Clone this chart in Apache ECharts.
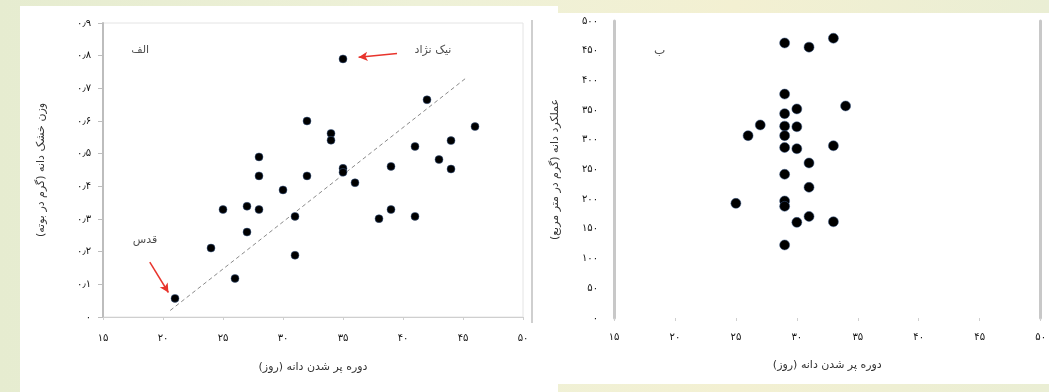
<!DOCTYPE html>
<html><head><meta charset="utf-8">
<script src="https://cdn.jsdelivr.net/npm/echarts@6/dist/echarts.min.js"></script>
<style>
html,body{margin:0;padding:0;width:1049px;height:392px;overflow:hidden;
background:linear-gradient(90deg,#e6ecd0 0%,#eef1d8 40%,#f3f0d2 70%,#eaeed4 100%);}
#c{width:1049px;height:392px;}
</style></head><body><div id="c"></div>
<script>
// ---- data: panel الف (left) ----
const leftFillDays = [35,42,32,46,34,34,44,41,28,43,39,35,44,35,28,32,36,30,27,25,28,39,31,41,38,27,24,31,26,21];
const leftGrainWeight = [0.79,0.665,0.60,0.583,0.562,0.541,0.54,0.522,0.49,0.482,0.461,0.455,0.453,0.443,0.432,0.432,0.411,0.389,0.339,0.329,0.329,0.329,0.308,0.308,0.301,0.26,0.211,0.189,0.118,0.057];
const trendX = [20.6, 45.2];
const trendY = [0.02, 0.73];
// ---- data: panel ب (right) ----
const rightFillDays = [29,31,33,29,34,30,29,27,29,30,26,29,29,30,33,31,29,31,25,29,29,31,30,33,29];
const rightYield = [463,456,471,377,357,352,344,325,323,322,307,307,287,285,290,261,242,220,193,197,188,171,161,162,123];
// ---- tick labels ----
const xTickLabels = ['۱۵','۲۰','۲۵','۳۰','۳۵','۴۰','۴۵','۵۰'];
const leftYTickLabels = ['۰','۰٫۱','۰٫۲','۰٫۳','۰٫۴','۰٫۵','۰٫۶','۰٫۷','۰٫۸','۰٫۹'];
const rightYTickLabels = ['۰','۵۰','۱۰۰','۱۵۰','۲۰۰','۲۵۰','۳۰۰','۳۵۰','۴۰۰','۴۵۰','۵۰۰'];
// ---- titles and annotations ----
const xAxisTitle = 'دوره پر شدن دانه (روز)';
const leftYTitle = 'وزن خشک دانه (گرم در بوته)';
const rightYTitle = 'عملکرد دانه (گرم در متر مربع)';
const leftNotes = [[18.1,0.817,'الف'],[42.5,0.817,'نیک نژاد'],[18.5,0.235,'قدس']];
const rightNotes = [[18.75,450,'ب']];
const arrows = [[[39.5,0.807],[36.3,0.795]],[[18.9,0.168],[20.45,0.075]]];

const FONT = 'DejaVu Sans';
const chart = echarts.init(document.getElementById('c'), null, {renderer:'canvas'});
const xAx = (gi, margin, gap, lineShow) => ({
  gridIndex: gi, type:'value', min:15, max:50, interval:5,
  name: xAxisTitle, nameLocation:'middle', nameGap: gap,
  nameTextStyle:{fontFamily:FONT, fontSize:11, color:'#333'},
  axisLine:{show:lineShow, onZero:false, lineStyle:{color:'#cfcfcf', width:1}},
  axisTick:{show:true, length:3, lineStyle:{color:'#cfcfcf'}},
  splitLine:{show:false},
  axisLabel:{fontFamily:FONT, fontSize:10, color:'#111', margin: margin,
    formatter: v => xTickLabels[Math.round((v-15)/5)]}
});
chart.setOption({
  animation:false,
  graphic:[
    {type:'rect', z:-10, silent:true, shape:{x:20,y:6,width:538,height:386}, style:{fill:'#fff'}},
    {type:'rect', z:-10, silent:true, shape:{x:558,y:13,width:491,height:371}, style:{fill:'#fff'}},
    {type:'rect', z:-5, silent:true, shape:{x:531,y:20,width:2,height:303}, style:{fill:'#cfcfcf'}}
  ],
  grid:[
    {left:103, top:23, width:420, height:294, show:true, borderColor:'#e4e4e4', borderWidth:1, backgroundColor:'transparent'},
    {left:614, top:21, width:430, height:297}
  ],
  xAxis:[ xAx(0, 16, 45, true), xAx(1, 14, 42, false) ],
  yAxis:[
    {gridIndex:0, type:'value', min:0, max:0.9, interval:0.1,
     name:leftYTitle, nameLocation:'middle', nameGap:56, nameRotate:90,
     nameTextStyle:{fontFamily:FONT, fontSize:11, color:'#333'},
     axisLine:{show:true, lineStyle:{color:'#bdbdbd', width:2}},
     axisTick:{show:true, length:5, lineStyle:{color:'#bdbdbd'}},
     splitLine:{show:false},
     axisLabel:{fontFamily:FONT, fontSize:10, color:'#111', margin:12,
       formatter: v => leftYTickLabels[Math.round(v*10)]}},
    {gridIndex:1, type:'value', min:0, max:500, interval:50,
     name:rightYTitle, nameLocation:'middle', nameGap:53, nameRotate:90,
     nameTextStyle:{fontFamily:FONT, fontSize:11, color:'#333'},
     axisLine:{show:true, lineStyle:{color:'#c8c8c8', width:3}},
     axisTick:{show:false},
     splitLine:{show:false},
     axisLabel:{fontFamily:FONT, fontSize:10, color:'#111', margin:16,
       formatter: v => rightYTickLabels[Math.round(v/50)]}},
    {gridIndex:1, type:'value', min:0, max:500, interval:50, position:'right',
     axisLine:{show:true, lineStyle:{color:'#c8c8c8', width:3}},
     axisTick:{show:false}, axisLabel:{show:false}, splitLine:{show:false}}
  ],
  series:[
    {type:'line', xAxisIndex:0, yAxisIndex:0, symbol:'none', z:1,
     data: trendX.map((x,i)=>[x,trendY[i]]),
     lineStyle:{color:'#8a8a8a', width:1, type:[4,3]}},
    {type:'scatter', xAxisIndex:0, yAxisIndex:0, symbolSize:8, z:3,
     data: leftFillDays.map((x,i)=>[x,leftGrainWeight[i]]),
     itemStyle:{color:'#000', opacity:1, borderColor:'#3a5a8a', borderWidth:0.5},
     markLine:{silent:true, symbol:['none','arrow'], symbolSize:[7,9],
       lineStyle:{color:'#e8342c', width:1.5, type:'solid'}, label:{show:false},
       data: arrows.map(a=>[{coord:a[0]},{coord:a[1]}])}},
    {type:'scatter', xAxisIndex:0, yAxisIndex:0, symbolSize:1, z:4,
     itemStyle:{color:'rgba(0,0,0,0)'},
     data: leftNotes,
     label:{show:true, position:'inside', formatter:p=>p.data[2],
       fontFamily:FONT, fontSize:11, color:'#222'}},
    {type:'scatter', xAxisIndex:1, yAxisIndex:1, symbolSize:10, z:3,
     data: rightFillDays.map((x,i)=>[x,rightYield[i]]),
     itemStyle:{color:'#000', opacity:1, borderColor:'#3a5a8a', borderWidth:0.5}},
    {type:'scatter', xAxisIndex:1, yAxisIndex:1, symbolSize:1, z:4,
     itemStyle:{color:'rgba(0,0,0,0)'},
     data: rightNotes,
     label:{show:true, position:'inside', formatter:p=>p.data[2],
       fontFamily:FONT, fontSize:12, color:'#222'}}
  ]
});
</script></body></html>
